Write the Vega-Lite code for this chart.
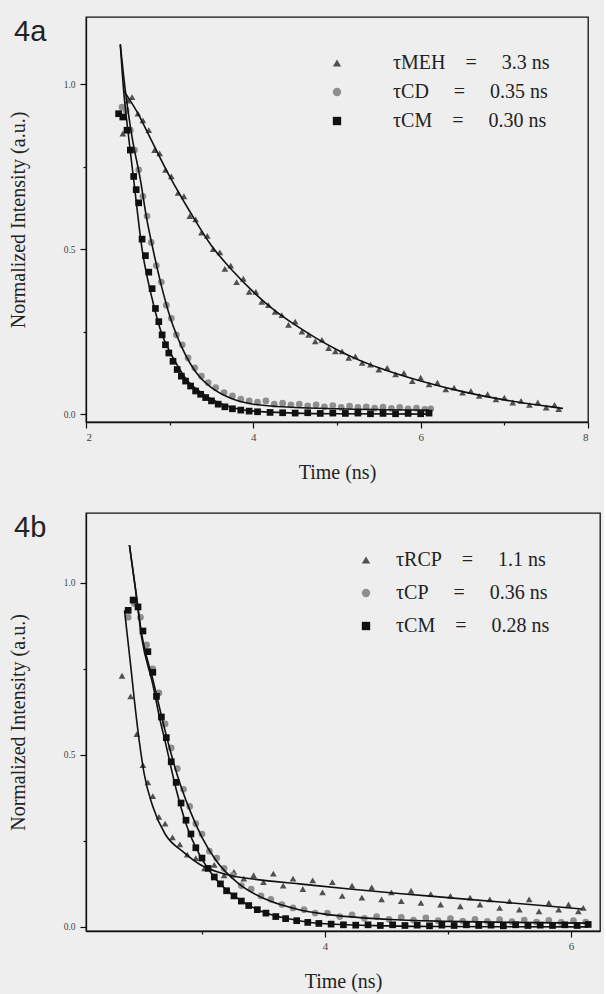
{
  "$schema": "https://vega.github.io/schema/vega-lite/v6.json",
  "background": "#eeeeee",
  "padding": {"left": 7, "top": 16, "right": 3, "bottom": 3},
  "spacing": 91,
  "bounds": "flush",
  "config": {
    "view": {"stroke": "#111111", "strokeWidth": 1.3},
    "font": "Liberation Serif",
    "axis": {"grid": false, "domainColor": "#111111", "domainWidth": 1.3, "tickColor": "#111111", "tickWidth": 1.2, "labelColor": "#444444", "titleColor": "#222222", "labelFont": "Liberation Serif", "titleFont": "Liberation Serif", "titleFontWeight": "normal", "titleFontSize": 20},
    "title": {"font": "Liberation Sans", "fontSize": 29, "fontWeight": "normal", "color": "#222222", "anchor": "start", "frame": "group"}
  },
  "resolve": {"scale": {"color": "independent", "shape": "independent", "x": "independent", "y": "independent"}},
  "datasets": {
    "a_pts": [
      {"s":"MEH","t":2.44,"y":0.85},{"s":"MEH","t":2.50,"y":0.95},{"s":"MEH","t":2.55,"y":0.96},{"s":"MEH","t":2.62,"y":0.91},{"s":"MEH","t":2.68,"y":0.89},{"s":"MEH","t":2.75,"y":0.86},{"s":"MEH","t":2.82,"y":0.80},{"s":"MEH","t":2.88,"y":0.79},{"s":"MEH","t":2.95,"y":0.74},{"s":"MEH","t":3.02,"y":0.72},{"s":"MEH","t":3.10,"y":0.67},{"s":"MEH","t":3.17,"y":0.66},{"s":"MEH","t":3.24,"y":0.60},{"s":"MEH","t":3.31,"y":0.59},{"s":"MEH","t":3.38,"y":0.55},{"s":"MEH","t":3.45,"y":0.54},{"s":"MEH","t":3.52,"y":0.50},{"s":"MEH","t":3.60,"y":0.49},{"s":"MEH","t":3.66,"y":0.44},{"s":"MEH","t":3.73,"y":0.45},{"s":"MEH","t":3.80,"y":0.40},{"s":"MEH","t":3.88,"y":0.41},{"s":"MEH","t":3.95,"y":0.37},{"s":"MEH","t":4.03,"y":0.37},{"s":"MEH","t":4.10,"y":0.34},{"s":"MEH","t":4.18,"y":0.33},{"s":"MEH","t":4.26,"y":0.31},{"s":"MEH","t":4.34,"y":0.30},{"s":"MEH","t":4.42,"y":0.27},{"s":"MEH","t":4.50,"y":0.28},{"s":"MEH","t":4.58,"y":0.25},{"s":"MEH","t":4.66,"y":0.24},{"s":"MEH","t":4.74,"y":0.22},{"s":"MEH","t":4.82,"y":0.225},{"s":"MEH","t":4.90,"y":0.20},{"s":"MEH","t":4.98,"y":0.19},{"s":"MEH","t":5.06,"y":0.19},{"s":"MEH","t":5.14,"y":0.17},{"s":"MEH","t":5.22,"y":0.175},{"s":"MEH","t":5.30,"y":0.155},{"s":"MEH","t":5.40,"y":0.15},{"s":"MEH","t":5.50,"y":0.135},{"s":"MEH","t":5.60,"y":0.14},{"s":"MEH","t":5.70,"y":0.12},{"s":"MEH","t":5.80,"y":0.125},{"s":"MEH","t":5.90,"y":0.10},{"s":"MEH","t":6.00,"y":0.11},{"s":"MEH","t":6.10,"y":0.09},{"s":"MEH","t":6.20,"y":0.095},{"s":"MEH","t":6.30,"y":0.075},{"s":"MEH","t":6.40,"y":0.08},{"s":"MEH","t":6.50,"y":0.065},{"s":"MEH","t":6.60,"y":0.07},{"s":"MEH","t":6.70,"y":0.055},{"s":"MEH","t":6.80,"y":0.06},{"s":"MEH","t":6.90,"y":0.045},{"s":"MEH","t":7.00,"y":0.05},{"s":"MEH","t":7.10,"y":0.035},{"s":"MEH","t":7.20,"y":0.04},{"s":"MEH","t":7.30,"y":0.028},{"s":"MEH","t":7.40,"y":0.035},{"s":"MEH","t":7.50,"y":0.02},{"s":"MEH","t":7.60,"y":0.028},{"s":"MEH","t":7.65,"y":0.015},
      {"s":"CD","t":2.43,"y":0.93},{"s":"CD","t":2.48,"y":0.92},{"s":"CD","t":2.53,"y":0.86},{"s":"CD","t":2.58,"y":0.80},{"s":"CD","t":2.63,"y":0.74},{"s":"CD","t":2.68,"y":0.66},{"s":"CD","t":2.73,"y":0.60},{"s":"CD","t":2.78,"y":0.52},{"s":"CD","t":2.84,"y":0.45},{"s":"CD","t":2.90,"y":0.40},{"s":"CD","t":2.96,"y":0.33},{"s":"CD","t":3.02,"y":0.29},{"s":"CD","t":3.08,"y":0.24},{"s":"CD","t":3.15,"y":0.21},{"s":"CD","t":3.22,"y":0.17},{"s":"CD","t":3.30,"y":0.14},{"s":"CD","t":3.38,"y":0.115},{"s":"CD","t":3.46,"y":0.095},{"s":"CD","t":3.55,"y":0.08},{"s":"CD","t":3.65,"y":0.065},{"s":"CD","t":3.75,"y":0.055},{"s":"CD","t":3.85,"y":0.045},{"s":"CD","t":3.95,"y":0.04},{"s":"CD","t":4.05,"y":0.036},{"s":"CD","t":4.15,"y":0.04},{"s":"CD","t":4.25,"y":0.03},{"s":"CD","t":4.35,"y":0.033},{"s":"CD","t":4.45,"y":0.028},{"s":"CD","t":4.55,"y":0.03},{"s":"CD","t":4.65,"y":0.025},{"s":"CD","t":4.75,"y":0.028},{"s":"CD","t":4.85,"y":0.022},{"s":"CD","t":4.95,"y":0.026},{"s":"CD","t":5.05,"y":0.02},{"s":"CD","t":5.15,"y":0.024},{"s":"CD","t":5.25,"y":0.02},{"s":"CD","t":5.35,"y":0.022},{"s":"CD","t":5.45,"y":0.018},{"s":"CD","t":5.55,"y":0.021},{"s":"CD","t":5.65,"y":0.017},{"s":"CD","t":5.75,"y":0.02},{"s":"CD","t":5.85,"y":0.016},{"s":"CD","t":5.95,"y":0.018},{"s":"CD","t":6.05,"y":0.014},{"s":"CD","t":6.12,"y":0.016},
      {"s":"CM","t":2.39,"y":0.91},{"s":"CM","t":2.44,"y":0.90},{"s":"CM","t":2.49,"y":0.86},{"s":"CM","t":2.53,"y":0.80},{"s":"CM","t":2.57,"y":0.72},{"s":"CM","t":2.60,"y":0.68},{"s":"CM","t":2.63,"y":0.64},{"s":"CM","t":2.67,"y":0.53},{"s":"CM","t":2.71,"y":0.48},{"s":"CM","t":2.75,"y":0.43},{"s":"CM","t":2.79,"y":0.38},{"s":"CM","t":2.83,"y":0.32},{"s":"CM","t":2.87,"y":0.28},{"s":"CM","t":2.91,"y":0.24},{"s":"CM","t":2.95,"y":0.21},{"s":"CM","t":2.99,"y":0.185},{"s":"CM","t":3.04,"y":0.16},{"s":"CM","t":3.09,"y":0.135},{"s":"CM","t":3.14,"y":0.115},{"s":"CM","t":3.19,"y":0.10},{"s":"CM","t":3.25,"y":0.085},{"s":"CM","t":3.31,"y":0.07},{"s":"CM","t":3.37,"y":0.06},{"s":"CM","t":3.43,"y":0.05},{"s":"CM","t":3.50,"y":0.04},{"s":"CM","t":3.58,"y":0.03},{"s":"CM","t":3.66,"y":0.022},{"s":"CM","t":3.75,"y":0.016},{"s":"CM","t":3.85,"y":0.012},{"s":"CM","t":3.95,"y":0.009},{"s":"CM","t":4.05,"y":0.007},{"s":"CM","t":4.2,"y":0.005},{"s":"CM","t":4.35,"y":0.004},{"s":"CM","t":4.5,"y":0.003},{"s":"CM","t":4.65,"y":0.004},{"s":"CM","t":4.8,"y":0.002},{"s":"CM","t":4.95,"y":0.003},{"s":"CM","t":5.1,"y":0.002},{"s":"CM","t":5.25,"y":0.003},{"s":"CM","t":5.4,"y":0.001},{"s":"CM","t":5.55,"y":0.002},{"s":"CM","t":5.7,"y":0.001},{"s":"CM","t":5.85,"y":0.002},{"s":"CM","t":6.0,"y":0.001},{"s":"CM","t":6.1,"y":0.003}
    ],
    "a_fit": [
      {"s":"MEH","t":2.45,"y":0.98},{"s":"MEH","t":2.6,"y":0.92},{"s":"MEH","t":2.8,"y":0.82},{"s":"MEH","t":3.0,"y":0.72},{"s":"MEH","t":3.25,"y":0.61},{"s":"MEH","t":3.5,"y":0.51},{"s":"MEH","t":3.75,"y":0.435},{"s":"MEH","t":4.0,"y":0.37},{"s":"MEH","t":4.25,"y":0.315},{"s":"MEH","t":4.5,"y":0.27},{"s":"MEH","t":4.75,"y":0.23},{"s":"MEH","t":5.0,"y":0.195},{"s":"MEH","t":5.25,"y":0.165},{"s":"MEH","t":5.5,"y":0.14},{"s":"MEH","t":6.0,"y":0.1},{"s":"MEH","t":6.5,"y":0.068},{"s":"MEH","t":7.0,"y":0.043},{"s":"MEH","t":7.5,"y":0.024},{"s":"MEH","t":7.7,"y":0.017},
      {"s":"CD","t":2.41,"y":1.12},{"s":"CD","t":2.47,"y":0.98},{"s":"CD","t":2.55,"y":0.84},{"s":"CD","t":2.65,"y":0.71},{"s":"CD","t":2.72,"y":0.60},{"s":"CD","t":2.80,"y":0.50},{"s":"CD","t":2.90,"y":0.39},{"s":"CD","t":3.01,"y":0.29},{"s":"CD","t":3.15,"y":0.20},{"s":"CD","t":3.35,"y":0.115},{"s":"CD","t":3.5,"y":0.08},{"s":"CD","t":3.74,"y":0.047},{"s":"CD","t":4.0,"y":0.03},{"s":"CD","t":4.5,"y":0.02},{"s":"CD","t":5.0,"y":0.016},{"s":"CD","t":6.1,"y":0.012},
      {"s":"CM","t":2.41,"y":1.12},{"s":"CM","t":2.45,"y":0.98},{"s":"CM","t":2.50,"y":0.86},{"s":"CM","t":2.57,"y":0.71},{"s":"CM","t":2.67,"y":0.50},{"s":"CM","t":2.79,"y":0.35},{"s":"CM","t":2.91,"y":0.24},{"s":"CM","t":3.0,"y":0.19},{"s":"CM","t":3.11,"y":0.14},{"s":"CM","t":3.2,"y":0.105},{"s":"CM","t":3.35,"y":0.07},{"s":"CM","t":3.5,"y":0.045},{"s":"CM","t":3.74,"y":0.02},{"s":"CM","t":4.0,"y":0.009},{"s":"CM","t":4.5,"y":0.003},{"s":"CM","t":5.0,"y":0.001},{"s":"CM","t":6.1,"y":0.0}
    ],
    "b_pts": [
      {"s":"RCP","t":2.35,"y":0.73},{"s":"RCP","t":2.42,"y":0.67},{"s":"RCP","t":2.47,"y":0.56},{"s":"RCP","t":2.52,"y":0.47},{"s":"RCP","t":2.56,"y":0.42},{"s":"RCP","t":2.60,"y":0.38},{"s":"RCP","t":2.65,"y":0.32},{"s":"RCP","t":2.70,"y":0.30},{"s":"RCP","t":2.76,"y":0.26},{"s":"RCP","t":2.82,"y":0.24},{"s":"RCP","t":2.88,"y":0.21},{"s":"RCP","t":2.95,"y":0.20},{"s":"RCP","t":3.02,"y":0.17},{"s":"RCP","t":3.10,"y":0.18},{"s":"RCP","t":3.18,"y":0.15},{"s":"RCP","t":3.26,"y":0.16},{"s":"RCP","t":3.34,"y":0.14},{"s":"RCP","t":3.42,"y":0.15},{"s":"RCP","t":3.50,"y":0.13},{"s":"RCP","t":3.58,"y":0.155},{"s":"RCP","t":3.66,"y":0.12},{"s":"RCP","t":3.74,"y":0.14},{"s":"RCP","t":3.82,"y":0.11},{"s":"RCP","t":3.90,"y":0.135},{"s":"RCP","t":3.98,"y":0.10},{"s":"RCP","t":4.06,"y":0.13},{"s":"RCP","t":4.14,"y":0.09},{"s":"RCP","t":4.22,"y":0.12},{"s":"RCP","t":4.30,"y":0.085},{"s":"RCP","t":4.38,"y":0.115},{"s":"RCP","t":4.46,"y":0.08},{"s":"RCP","t":4.54,"y":0.10},{"s":"RCP","t":4.62,"y":0.075},{"s":"RCP","t":4.70,"y":0.105},{"s":"RCP","t":4.78,"y":0.07},{"s":"RCP","t":4.86,"y":0.095},{"s":"RCP","t":4.94,"y":0.065},{"s":"RCP","t":5.02,"y":0.09},{"s":"RCP","t":5.10,"y":0.06},{"s":"RCP","t":5.18,"y":0.085},{"s":"RCP","t":5.26,"y":0.065},{"s":"RCP","t":5.34,"y":0.08},{"s":"RCP","t":5.42,"y":0.055},{"s":"RCP","t":5.50,"y":0.075},{"s":"RCP","t":5.58,"y":0.05},{"s":"RCP","t":5.66,"y":0.08},{"s":"RCP","t":5.74,"y":0.045},{"s":"RCP","t":5.82,"y":0.07},{"s":"RCP","t":5.90,"y":0.05},{"s":"RCP","t":5.98,"y":0.065},{"s":"RCP","t":6.06,"y":0.045},{"s":"RCP","t":6.10,"y":0.055},
      {"s":"CP","t":2.40,"y":0.90},{"s":"CP","t":2.45,"y":0.94},{"s":"CP","t":2.50,"y":0.90},{"s":"CP","t":2.55,"y":0.82},{"s":"CP","t":2.60,"y":0.75},{"s":"CP","t":2.65,"y":0.68},{"s":"CP","t":2.70,"y":0.59},{"s":"CP","t":2.75,"y":0.52},{"s":"CP","t":2.80,"y":0.46},{"s":"CP","t":2.85,"y":0.40},{"s":"CP","t":2.90,"y":0.35},{"s":"CP","t":2.95,"y":0.30},{"s":"CP","t":3.00,"y":0.27},{"s":"CP","t":3.06,"y":0.22},{"s":"CP","t":3.12,"y":0.20},{"s":"CP","t":3.18,"y":0.17},{"s":"CP","t":3.25,"y":0.15},{"s":"CP","t":3.32,"y":0.12},{"s":"CP","t":3.40,"y":0.11},{"s":"CP","t":3.48,"y":0.09},{"s":"CP","t":3.56,"y":0.08},{"s":"CP","t":3.65,"y":0.065},{"s":"CP","t":3.74,"y":0.055},{"s":"CP","t":3.83,"y":0.05},{"s":"CP","t":3.92,"y":0.04},{"s":"CP","t":4.02,"y":0.04},{"s":"CP","t":4.12,"y":0.03},{"s":"CP","t":4.22,"y":0.035},{"s":"CP","t":4.32,"y":0.025},{"s":"CP","t":4.42,"y":0.03},{"s":"CP","t":4.52,"y":0.022},{"s":"CP","t":4.62,"y":0.028},{"s":"CP","t":4.72,"y":0.02},{"s":"CP","t":4.82,"y":0.026},{"s":"CP","t":4.92,"y":0.018},{"s":"CP","t":5.02,"y":0.024},{"s":"CP","t":5.12,"y":0.017},{"s":"CP","t":5.22,"y":0.022},{"s":"CP","t":5.32,"y":0.016},{"s":"CP","t":5.42,"y":0.021},{"s":"CP","t":5.52,"y":0.015},{"s":"CP","t":5.62,"y":0.02},{"s":"CP","t":5.72,"y":0.014},{"s":"CP","t":5.82,"y":0.019},{"s":"CP","t":5.92,"y":0.013},{"s":"CP","t":6.02,"y":0.018},{"s":"CP","t":6.12,"y":0.014},
      {"s":"CM","t":2.40,"y":0.92},{"s":"CM","t":2.44,"y":0.95},{"s":"CM","t":2.48,"y":0.93},{"s":"CM","t":2.52,"y":0.86},{"s":"CM","t":2.56,"y":0.80},{"s":"CM","t":2.60,"y":0.74},{"s":"CM","t":2.63,"y":0.67},{"s":"CM","t":2.67,"y":0.61},{"s":"CM","t":2.71,"y":0.55},{"s":"CM","t":2.75,"y":0.48},{"s":"CM","t":2.79,"y":0.42},{"s":"CM","t":2.83,"y":0.36},{"s":"CM","t":2.87,"y":0.31},{"s":"CM","t":2.91,"y":0.27},{"s":"CM","t":2.95,"y":0.23},{"s":"CM","t":3.00,"y":0.20},{"s":"CM","t":3.05,"y":0.17},{"s":"CM","t":3.10,"y":0.145},{"s":"CM","t":3.15,"y":0.125},{"s":"CM","t":3.20,"y":0.105},{"s":"CM","t":3.26,"y":0.09},{"s":"CM","t":3.32,"y":0.075},{"s":"CM","t":3.38,"y":0.062},{"s":"CM","t":3.45,"y":0.05},{"s":"CM","t":3.52,"y":0.04},{"s":"CM","t":3.60,"y":0.03},{"s":"CM","t":3.68,"y":0.024},{"s":"CM","t":3.77,"y":0.018},{"s":"CM","t":3.86,"y":0.013},{"s":"CM","t":3.95,"y":0.01},{"s":"CM","t":4.05,"y":0.008},{"s":"CM","t":4.15,"y":0.006},{"s":"CM","t":4.25,"y":0.005},{"s":"CM","t":4.35,"y":0.006},{"s":"CM","t":4.45,"y":0.004},{"s":"CM","t":4.55,"y":0.006},{"s":"CM","t":4.65,"y":0.004},{"s":"CM","t":4.75,"y":0.005},{"s":"CM","t":4.85,"y":0.003},{"s":"CM","t":4.95,"y":0.005},{"s":"CM","t":5.05,"y":0.004},{"s":"CM","t":5.15,"y":0.006},{"s":"CM","t":5.25,"y":0.004},{"s":"CM","t":5.35,"y":0.005},{"s":"CM","t":5.45,"y":0.003},{"s":"CM","t":5.55,"y":0.006},{"s":"CM","t":5.65,"y":0.004},{"s":"CM","t":5.75,"y":0.005},{"s":"CM","t":5.85,"y":0.004},{"s":"CM","t":5.95,"y":0.006},{"s":"CM","t":6.05,"y":0.004},{"s":"CM","t":6.14,"y":0.007}
    ],
    "b_fit": [
      {"s":"RCP","t":2.37,"y":0.92},{"s":"RCP","t":2.42,"y":0.76},{"s":"RCP","t":2.45,"y":0.66},{"s":"RCP","t":2.49,"y":0.54},{"s":"RCP","t":2.53,"y":0.445},{"s":"RCP","t":2.60,"y":0.35},{"s":"RCP","t":2.70,"y":0.27},{"s":"RCP","t":2.84,"y":0.22},{"s":"RCP","t":2.98,"y":0.182},{"s":"RCP","t":3.19,"y":0.153},{"s":"RCP","t":3.44,"y":0.138},{"s":"RCP","t":3.79,"y":0.125},{"s":"RCP","t":4.2,"y":0.11},{"s":"RCP","t":4.6,"y":0.097},{"s":"RCP","t":5.0,"y":0.085},{"s":"RCP","t":5.5,"y":0.07},{"s":"RCP","t":6.09,"y":0.052},
      {"s":"CP","t":2.41,"y":1.11},{"s":"CP","t":2.46,"y":0.98},{"s":"CP","t":2.51,"y":0.85},{"s":"CP","t":2.60,"y":0.72},{"s":"CP","t":2.70,"y":0.57},{"s":"CP","t":2.80,"y":0.44},{"s":"CP","t":2.90,"y":0.34},{"s":"CP","t":3.00,"y":0.26},{"s":"CP","t":3.11,"y":0.195},{"s":"CP","t":3.30,"y":0.125},{"s":"CP","t":3.52,"y":0.08},{"s":"CP","t":3.79,"y":0.05},{"s":"CP","t":4.0,"y":0.037},{"s":"CP","t":4.5,"y":0.022},{"s":"CP","t":5.0,"y":0.016},{"s":"CP","t":5.5,"y":0.013},{"s":"CP","t":6.14,"y":0.011},
      {"s":"CM","t":2.41,"y":1.11},{"s":"CM","t":2.46,"y":0.98},{"s":"CM","t":2.51,"y":0.84},{"s":"CM","t":2.60,"y":0.705},{"s":"CM","t":2.66,"y":0.60},{"s":"CM","t":2.70,"y":0.54},{"s":"CM","t":2.79,"y":0.40},{"s":"CM","t":2.87,"y":0.30},{"s":"CM","t":2.98,"y":0.21},{"s":"CM","t":3.11,"y":0.14},{"s":"CM","t":3.30,"y":0.08},{"s":"CM","t":3.52,"y":0.04},{"s":"CM","t":3.79,"y":0.018},{"s":"CM","t":4.0,"y":0.009},{"s":"CM","t":4.5,"y":0.003},{"s":"CM","t":5.0,"y":0.001},{"s":"CM","t":6.14,"y":0.0}
    ]
  },
  "vconcat": [
    {
      "title": {"text": "4a", "dx": -72, "baseline": "top", "offset": -30},
      "width": 502,
      "height": 405,
      "layer": [
        {
          "data": {"name": "a_pts"},
          "mark": {"type": "point", "filled": true, "opacity": 1, "size": 45},
          "encoding": {
            "x": {"field": "t", "type": "quantitative", "scale": {"domain": [2, 8], "nice": false, "zero": false},
              "axis": {"title": "Time (ns)", "values": [2, 3, 4, 5, 6, 7, 8], "format": "d", "labelExpr": "datum.value % 2 == 0 ? datum.label : ''", "tickSize": {"condition": {"test": "datum.value % 2 == 1", "value": 3}, "value": 6}, "labelFontSize": 11, "labelPadding": 3, "titlePadding": 20}},
            "y": {"field": "y", "type": "quantitative", "scale": {"domain": [-0.024, 1.203], "nice": false, "zero": false},
              "axis": {"title": "Normalized Intensity (a.u.)", "values": [0, 0.25, 0.5, 0.75, 1], "format": ".1f", "labelExpr": "datum.value == 0.25 || datum.value == 0.75 ? '' : datum.label", "tickSize": {"condition": {"test": "datum.value == 0.25 || datum.value == 0.75", "value": 3}, "value": 6}, "labelFontSize": 9.5, "labelPadding": 5, "titlePadding": 35}},
            "color": {"field": "s", "type": "nominal", "scale": {"domain": ["MEH", "CD", "CM"], "range": ["#505050", "#8e8e8e", "#111111"]},
              "legend": {"title": null, "orient": "none", "legendX": 241, "legendY": 36, "labelExpr": "datum.label == 'MEH' ? 'τMEH\u00a0\u00a0\u00a0\u00a0=\u00a0\u00a0\u00a0\u00a0\u00a03.3 ns' : datum.label == 'CD' ? 'τCD\u00a0\u00a0\u00a0\u00a0\u00a0=\u00a0\u00a0\u00a0\u00a0\u00a00.35 ns' : 'τCM\u00a0\u00a0\u00a0\u00a0=\u00a0\u00a0\u00a0\u00a0\u00a00.30 ns'", "labelFont": "Liberation Serif", "labelFontSize": 20, "labelColor": "#222222", "symbolSize": 70, "labelOffset": 46, "rowPadding": 9, "padding": 0}},
            "shape": {"field": "s", "type": "nominal", "scale": {"domain": ["MEH", "CD", "CM"], "range": ["triangle-up", "circle", "square"]},
              "legend": {"title": null, "orient": "none", "legendX": 241, "legendY": 36, "labelExpr": "datum.label == 'MEH' ? 'τMEH\u00a0\u00a0\u00a0\u00a0=\u00a0\u00a0\u00a0\u00a0\u00a03.3 ns' : datum.label == 'CD' ? 'τCD\u00a0\u00a0\u00a0\u00a0\u00a0=\u00a0\u00a0\u00a0\u00a0\u00a00.35 ns' : 'τCM\u00a0\u00a0\u00a0\u00a0=\u00a0\u00a0\u00a0\u00a0\u00a00.30 ns'", "labelFont": "Liberation Serif", "labelFontSize": 20, "labelColor": "#222222", "symbolSize": 70, "labelOffset": 46, "rowPadding": 9, "padding": 0}}
          }
        },
        {
          "data": {"name": "a_fit"},
          "mark": {"type": "line", "color": "#111111", "strokeWidth": 1.6, "interpolate": "monotone"},
          "encoding": {
            "x": {"field": "t", "type": "quantitative"},
            "y": {"field": "y", "type": "quantitative"},
            "detail": {"field": "s", "type": "nominal"}
          }
        }
      ]
    },
    {
      "title": {"text": "4b", "dx": -72, "baseline": "top", "offset": -30},
      "width": 514,
      "height": 418,
      "layer": [
        {
          "data": {"name": "b_pts"},
          "mark": {"type": "point", "filled": true, "opacity": 1, "size": 45},
          "encoding": {
            "x": {"field": "t", "type": "quantitative", "scale": {"domain": [2.057, 6.236], "nice": false, "zero": false},
              "axis": {"title": "Time (ns)", "values": [3, 4, 5, 6], "format": "d", "labelExpr": "datum.value % 2 == 0 ? datum.label : ''", "tickSize": {"condition": {"test": "datum.value % 2 == 1", "value": 3}, "value": 6}, "labelFontSize": 11, "labelPadding": 3, "titlePadding": 20}},
            "y": {"field": "y", "type": "quantitative", "scale": {"domain": [-0.012, 1.203], "nice": false, "zero": false},
              "axis": {"title": "Normalized Intensity (a.u.)", "values": [0, 0.25, 0.5, 0.75, 1], "format": ".1f", "labelExpr": "datum.value == 0.25 || datum.value == 0.75 ? '' : datum.label", "tickSize": {"condition": {"test": "datum.value == 0.25 || datum.value == 0.75", "value": 3}, "value": 6}, "labelFontSize": 9.5, "labelPadding": 5, "titlePadding": 35}},
            "color": {"field": "s", "type": "nominal", "scale": {"domain": ["RCP", "CP", "CM"], "range": ["#505050", "#8e8e8e", "#111111"]},
              "legend": {"title": null, "orient": "none", "legendX": 270, "legendY": 37, "labelExpr": "datum.label == 'RCP' ? 'τRCP\u00a0\u00a0\u00a0\u00a0=\u00a0\u00a0\u00a0\u00a0\u00a01.1 ns' : datum.label == 'CP' ? 'τCP\u00a0\u00a0\u00a0\u00a0\u00a0=\u00a0\u00a0\u00a0\u00a0\u00a00.36 ns' : 'τCM\u00a0\u00a0\u00a0\u00a0=\u00a0\u00a0\u00a0\u00a0\u00a00.28 ns'", "labelFont": "Liberation Serif", "labelFontSize": 20, "labelColor": "#222222", "symbolSize": 70, "labelOffset": 20, "rowPadding": 13, "padding": 0}},
            "shape": {"field": "s", "type": "nominal", "scale": {"domain": ["RCP", "CP", "CM"], "range": ["triangle-up", "circle", "square"]},
              "legend": {"title": null, "orient": "none", "legendX": 270, "legendY": 37, "labelExpr": "datum.label == 'RCP' ? 'τRCP\u00a0\u00a0\u00a0\u00a0=\u00a0\u00a0\u00a0\u00a0\u00a01.1 ns' : datum.label == 'CP' ? 'τCP\u00a0\u00a0\u00a0\u00a0\u00a0=\u00a0\u00a0\u00a0\u00a0\u00a00.36 ns' : 'τCM\u00a0\u00a0\u00a0\u00a0=\u00a0\u00a0\u00a0\u00a0\u00a00.28 ns'", "labelFont": "Liberation Serif", "labelFontSize": 20, "labelColor": "#222222", "symbolSize": 70, "labelOffset": 20, "rowPadding": 13, "padding": 0}}
          }
        },
        {
          "data": {"name": "b_fit"},
          "mark": {"type": "line", "color": "#111111", "strokeWidth": 1.6, "interpolate": "monotone"},
          "encoding": {
            "x": {"field": "t", "type": "quantitative"},
            "y": {"field": "y", "type": "quantitative"},
            "detail": {"field": "s", "type": "nominal"}
          }
        }
      ]
    }
  ]
}
